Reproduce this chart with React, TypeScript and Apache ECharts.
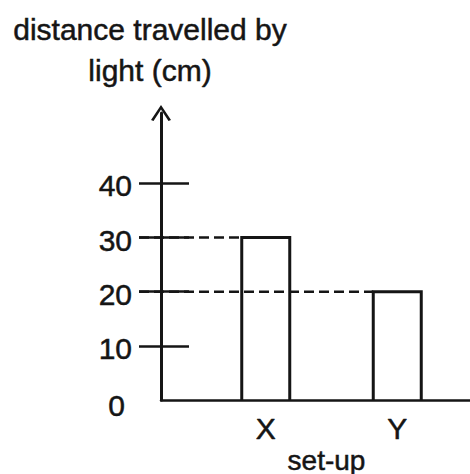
import React, { useEffect, useRef } from "react";
import * as echarts from "echarts";

// ---- data ----
const categories = ["X", "Y"];
const distances = [30, 20];
const yLabelValues = [0, 10, 20, 30, 40];
const yTickValues = [10, 20, 30, 40];
const yAxisTitle = "distance travelled by\nlight (cm)";
const xAxisTitle = "set-up";

// ---- layout / style constants ----
const INK = "#151515";
const FONT = "'Liberation Sans', Arial, sans-serif";
const TEXT_THICK = { textBorderColor: INK, textBorderWidth: 0.5 };
const Y_MIN = 0;
const Y_MAX = 53;
const AXIS_X = 161;
const GRID_TOP = 113;
const GRID_BOTTOM = 74;
const TICK_OUT = 22;
const TICK_IN = 28;
const BAR_WIDTH = 48;
const BAR_GRID_LEFT = 200;
const BAR_GRID_RIGHT = 7;

export default function App() {
  const ref = useRef<HTMLDivElement>(null);

  useEffect(() => {
    if (!ref.current) return;
    const chart = echarts.init(ref.current, null, { renderer: "svg" });

    const option: any = {
      animation: false,
      backgroundColor: "#ffffff",
      textStyle: { fontFamily: FONT, color: INK },
      grid: [
        { left: AXIS_X, right: 0, top: GRID_TOP, bottom: GRID_BOTTOM, outerBoundsMode: "none", containLabel: false },
        { left: BAR_GRID_LEFT, right: BAR_GRID_RIGHT, top: GRID_TOP, bottom: GRID_BOTTOM, outerBoundsMode: "none", containLabel: false },
      ],
      xAxis: [
        {
          gridIndex: 0,
          type: "value",
          min: 0,
          max: 1,
          z: 10,
          axisLine: { show: true, onZero: false, lineStyle: { color: INK, width: 2.5 } },
          axisTick: { show: false },
          axisLabel: { show: false },
          splitLine: { show: false },
        },
        {
          gridIndex: 1,
          type: "category",
          data: categories,
          axisLine: { show: false },
          axisTick: { show: false },
          splitLine: { show: false },
          axisLabel: { color: INK, fontFamily: FONT, fontSize: 30, margin: 13, ...TEXT_THICK },
          name: xAxisTitle,
          nameLocation: "middle",
          nameGap: 46,
          nameMoveOverlap: false,
          nameTextStyle: { color: INK, fontFamily: FONT, fontSize: 28, padding: [0, 10, 0, 0], ...TEXT_THICK },
        },
      ],
      yAxis: [
        {
          gridIndex: 0,
          type: "value",
          position: "left",
          min: Y_MIN,
          max: Y_MAX,
          axisLine: {
            show: true,
            onZero: false,
            lineStyle: { color: INK, width: 3 },
            symbol: ["none", "path://M0,15 L10,0 L20,15 L17.5,16 L10,4.5 L2.5,16 Z"],
            symbolSize: [21, 16],
          },
          axisTick: {
            show: true,
            length: TICK_OUT,
            customValues: yTickValues,
            lineStyle: { color: INK, width: 2.5 },
          },
          axisLabel: {
            show: true,
            customValues: yLabelValues,
            margin: 29,
            color: INK,
            fontFamily: FONT,
            fontSize: 30,
            formatter: (v: number) => (v === 0 ? "{z|0}" : "{n|" + v + "}"),
            rich: {
              n: { fontSize: 30, fontFamily: FONT, color: INK, padding: [5, 0, 0, 0], ...TEXT_THICK },
              z: { fontSize: 30, fontFamily: FONT, color: INK, padding: [10, 7, 0, 0], ...TEXT_THICK },
            },
          },
          splitLine: { show: false },
          name: yAxisTitle,
          nameLocation: "end",
          nameGap: 22,
          nameMoveOverlap: false,
          nameTextStyle: {
            color: INK,
            fontFamily: FONT,
            fontSize: 30,
            lineHeight: 41,
            align: "center",
            padding: [0, 22, 0, 0],
            ...TEXT_THICK,
          },
        },
        {
          gridIndex: 0,
          type: "value",
          position: "left",
          offset: 0,
          min: Y_MIN,
          max: Y_MAX,
          axisLine: { show: false },
          axisTick: {
            show: true,
            inside: true,
            length: TICK_IN,
            customValues: yTickValues,
            lineStyle: { color: INK, width: 2.5 },
          },
          axisLabel: { show: false },
          splitLine: { show: false },
        },
        {
          gridIndex: 1,
          type: "value",
          min: Y_MIN,
          max: Y_MAX,
          show: false,
        },
      ],
      series: [
        {
          type: "custom",
          name: "guides",
          xAxisIndex: 1,
          yAxisIndex: 2,
          clip: false,
          z: 3,
          data: distances.map((v, i) => [i, v]),
          encode: { x: 0, y: 1 },
          renderItem: (params: any, api: any) => {
            const p = api.coord([api.value(0), api.value(1)]);
            return {
              type: "line",
              shape: { x1: AXIS_X - TICK_OUT, y1: p[1], x2: p[0] - BAR_WIDTH / 2, y2: p[1] },
              style: { stroke: INK, lineWidth: 2.5, lineDash: [10, 5] },
            };
          },
        },
        {
          type: "custom",
          name: "distance",
          xAxisIndex: 1,
          yAxisIndex: 2,
          clip: false,
          z: 4,
          data: distances.map((v, i) => [i, v]),
          encode: { x: 0, y: 1 },
          renderItem: (params: any, api: any) => {
            const top = api.coord([api.value(0), api.value(1)]);
            const base = api.coord([api.value(0), 0]);
            const l = top[0] - BAR_WIDTH / 2;
            const r = top[0] + BAR_WIDTH / 2;
            return {
              type: "polyline",
              shape: { points: [[l, base[1]], [l, top[1]], [r, top[1]], [r, base[1]]] },
              style: { stroke: INK, lineWidth: 3, fill: null, lineJoin: "miter" },
            };
          },
        },
      ],
    };

    chart.setOption(option);
    return () => chart.dispose();
  }, []);

  return (
    <div
      ref={ref}
      style={{ position: "fixed", left: 0, top: 0, width: 470, height: 474, background: "#fff" }}
    />
  );
}
